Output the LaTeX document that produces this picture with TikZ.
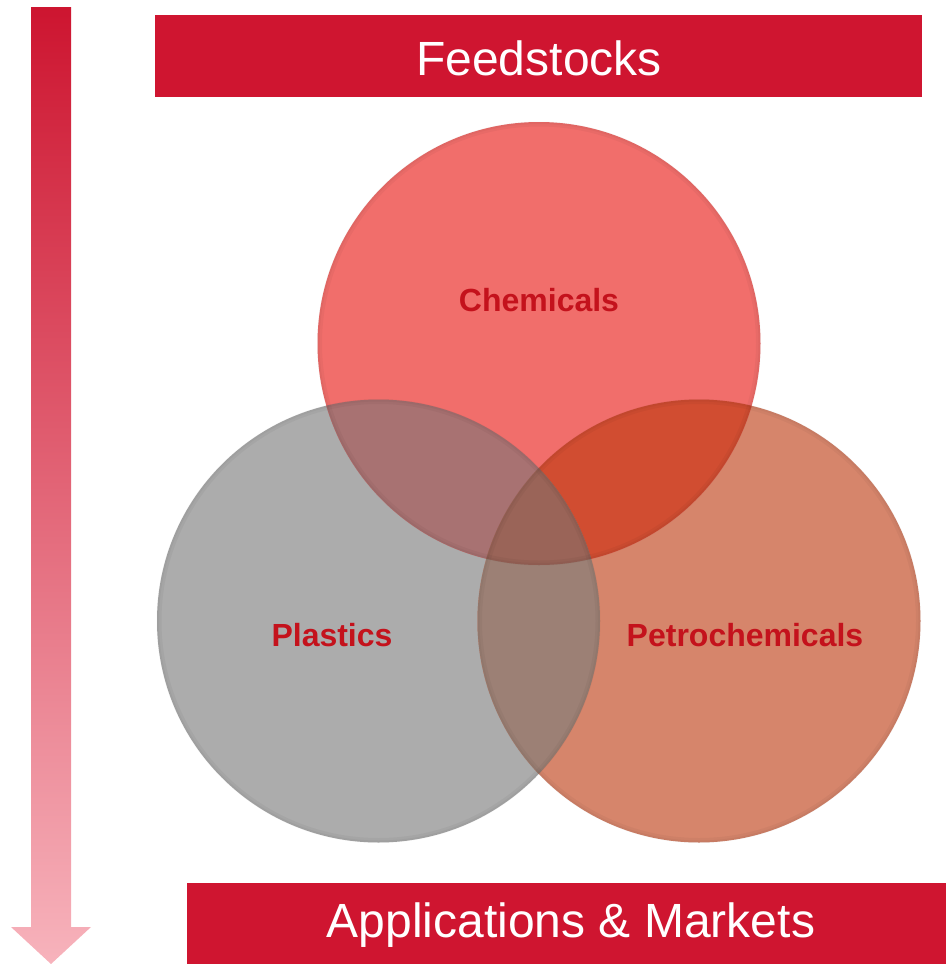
\documentclass[tikz,border=0pt]{standalone}
\usepackage{fontspec}
\setmainfont{Liberation Sans}
\definecolor{barred}{RGB}{207,21,48}
\definecolor{arrtop}{RGB}{205,21,48}
\definecolor{arrbot}{RGB}{247,179,188}
\definecolor{colC}{RGB}{241,110,107}
\definecolor{colP}{RGB}{172,172,172}
\definecolor{colR}{RGB}{214,133,107}
\definecolor{colCP}{RGB}{168,114,114}
\definecolor{colCR}{RGB}{209,77,49}
\definecolor{colPR}{RGB}{156,128,117}
\definecolor{colAll}{RGB}{154,100,88}
\definecolor{labred}{RGB}{196,18,28}
\tikzset{
  bartext/.style={text=white, font=\fontsize{48}{54}\selectfont, inner sep=0pt},
  circlabel/.style={text=labred, font=\fontsize{32}{36}\selectfont\bfseries, inner sep=0pt},
  rim/.style={draw=black, draw opacity=0.035, line width=5pt},
  rimin/.style={draw=black, draw opacity=0.03, line width=2pt},
}
\begin{document}
\begin{tikzpicture}[x=1pt,y=-1pt]
\useasboundingbox (0,0) rectangle (946,964);
% coordinates
\coordinate (cC) at (539,343.5);
\coordinate (cP) at (378.5,621);
\coordinate (cR) at (699,621);
% arrow
\shade[top color=arrtop, bottom color=arrbot]
  (31,7) -- (71,7) -- (71,927) -- (91,927) -- (51,964) -- (11,927) -- (31,927) -- cycle;
% bars
\fill[barred] (155,15) rectangle (922,97);
\node[bartext] (feed) at (539,58) {Feedstocks};
\fill[barred] (187,883) rectangle (946,964);
\node[bartext] (apps) at (571,925) {Applications \& Markets};
% circles
\fill[colP] (cP) circle (221.5pt);
\fill[colR] (cR) circle (221.5pt);
\fill[colC] (cC) circle (221.5pt);
\begin{scope}
  \clip (cC) circle (221.5pt);
  \fill[colCP] (cP) circle (221.5pt);
  \fill[colCR] (cR) circle (221.5pt);
\end{scope}
\begin{scope}
  \clip (cP) circle (221.5pt);
  \fill[colPR] (cR) circle (221.5pt);
\end{scope}
\begin{scope}
  \clip (cC) circle (221.5pt);
  \clip (cP) circle (221.5pt);
  \fill[colAll] (cR) circle (221.5pt);
\end{scope}
% soft rims
\foreach \c in {cP,cR,cC} {
  \draw[rim] (\c) circle (219.5pt);
  \draw[rimin] (\c) circle (220.5pt);
}
% labels
\node[circlabel] (lC) at (539,300) {Chemicals};
\node[circlabel] (lP) at (332,635) {Plastics};
\node[circlabel] (lR) at (745,635) {Petrochemicals};
\end{tikzpicture}
\end{document}
